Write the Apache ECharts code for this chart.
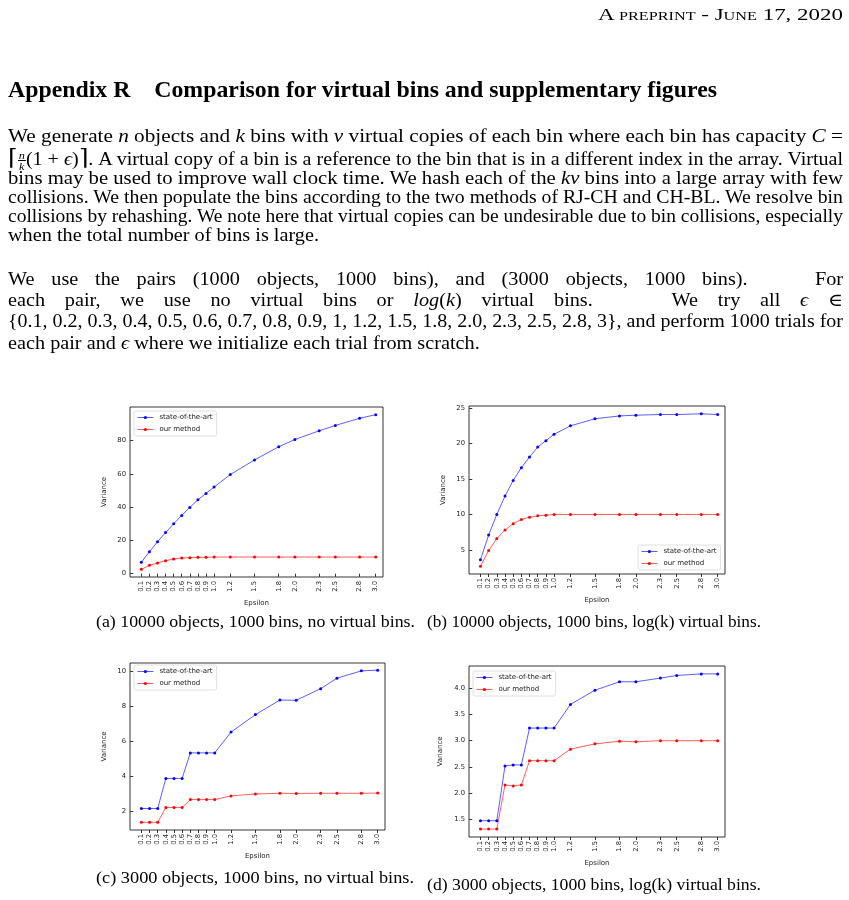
<!DOCTYPE html>
<html>
<head>
<meta charset="utf-8">
<script src="https://cdn.jsdelivr.net/npm/echarts@6/dist/echarts.min.js"></script>
<style>
  html, body { margin: 0; padding: 0; background: #fff; }
  body { width: 849px; height: 900px; position: relative; overflow: hidden;
         font-family: "Liberation Serif", "DejaVu Serif", serif; color: #000; }
  #chart { position: absolute; left: 0; top: 0; width: 849px; height: 900px; }
  .ln { position: absolute; white-space: nowrap; font-size: 18px; line-height: 20px; height: 20px; }
  .ln span.in { display: inline-block; transform-origin: 0 50%; }
  .frac { display: inline-block; vertical-align: middle; text-align: center; font-size: 11px; line-height: 10px; font-style: italic; }
  .frac b { display: block; font-weight: normal; }
  .frac b:first-child { border-bottom: 0.8px solid #000; padding: 0 1px; }
  .big { font-size: 22px; }
  .hdr { font-variant: small-caps; font-size: 17px; }
  .h1 { font-weight: bold; font-size: 23px; }
  .cap { font-size: 17px; }
</style>
</head>
<body>
<div id="chart"></div>

<div class="ln hdr" data-l="598" data-w="245" data-m="fit" style="top:5px"><span class="in">A preprint - June 17, 2020</span></div>
<div class="ln h1" data-l="8" data-w="709" data-m="fit" style="top:80px"><span class="in">Appendix R&nbsp;&nbsp;&nbsp;&nbsp;Comparison for virtual bins and supplementary figures</span></div>

<div class="ln" data-l="8" data-w="835" data-m="fit" style="top:126px"><span class="in">We generate <i>n</i> objects and <i>k</i> bins with <i>v</i> virtual copies of each bin where each bin has capacity <i>C</i> =</span></div>
<div class="ln" data-l="8" data-w="835" data-m="fit" style="top:148px"><span class="in"><span class="big">⌈</span><span class="frac"><b>n</b><b>k</b></span>(1 + <i>ϵ</i>)<span class="big">⌉</span>. A virtual copy of a bin is a reference to the bin that is in a different index in the array. Virtual</span></div>
<div class="ln" data-l="8" data-w="835" data-m="fit" style="top:168px"><span class="in">bins may be used to improve wall clock time. We hash each of the <i>kv</i> bins into a large array with few</span></div>
<div class="ln" data-l="8" data-w="835" data-m="fit" style="top:187px"><span class="in">collisions. We then populate the bins according to the two methods of RJ-CH and CH-BL. We resolve bin</span></div>
<div class="ln" data-l="8" data-w="835" data-m="fit" style="top:206px"><span class="in">collisions by rehashing. We note here that virtual copies can be undesirable due to bin collisions, especially</span></div>
<div class="ln" data-l="8" data-w="0" data-m="body" style="top:225px"><span class="in">when the total number of bins is large.</span></div>

<div class="ln" data-l="8" data-w="835" data-m="just" style="top:269px"><span class="in">We use the pairs (1000 objects, 1000 bins), and (3000 objects, 1000 bins).&nbsp;&nbsp;&nbsp; For</span></div>
<div class="ln" data-l="8" data-w="835" data-m="just" style="top:290px"><span class="in">each pair, we use no virtual bins or <i>log</i>(<i>k</i>) virtual bins.&nbsp;&nbsp;&nbsp; We try all <i>ϵ</i> ∈</span></div>
<div class="ln" data-l="8" data-w="835" data-m="just" style="top:311px"><span class="in">{0.1, 0.2, 0.3, 0.4, 0.5, 0.6, 0.7, 0.8, 0.9, 1, 1.2, 1.5, 1.8, 2.0, 2.3, 2.5, 2.8, 3}, and perform 1000 trials for</span></div>
<div class="ln" data-l="8" data-w="0" data-m="body" style="top:333px"><span class="in">each pair and <i>ϵ</i> where we initialize each trial from scratch.</span></div>

<div class="ln cap" data-l="96" data-w="319" data-m="fit" style="top:612px"><span class="in">(a) 10000 objects, 1000 bins, no virtual bins.</span></div>
<div class="ln cap" data-l="427" data-w="334" data-m="fit" style="top:612px"><span class="in">(b) 10000 objects, 1000 bins, log(k) virtual bins.</span></div>
<div class="ln cap" data-l="96" data-w="318" data-m="fit" style="top:868px"><span class="in">(c) 3000 objects, 1000 bins, no virtual bins.</span></div>
<div class="ln cap" data-l="427" data-w="334" data-m="fit" style="top:875px"><span class="in">(d) 3000 objects, 1000 bins, log(k) virtual bins.</span></div>

<script>
// epsilon values (x axis)
var eps = [0.1, 0.2, 0.3, 0.4, 0.5, 0.6, 0.7, 0.8, 0.9, 1.0, 1.2, 1.5, 1.8, 2.0, 2.3, 2.5, 2.8, 3.0];

// (a) 10000 objects, 1000 bins, no virtual bins
var sotaA = [6.8, 13.1, 19.1, 24.7, 30.0, 35.0, 39.8, 44.4, 48.2, 52.0, 59.5, 68.3, 76.2, 80.6, 85.8, 89.0, 93.3, 95.5];
var oursA = [2.6, 5.0, 6.4, 7.8, 8.8, 9.4, 9.6, 9.8, 9.8, 10.0, 10.0, 10.0, 10.0, 10.0, 10.0, 10.0, 10.0, 10.0];
// (b) 10000 objects, 1000 bins, log(k) virtual bins
var sotaB = [3.6, 7.1, 10.0, 12.6, 14.8, 16.6, 18.1, 19.5, 20.4, 21.3, 22.5, 23.5, 23.9, 24.0, 24.1, 24.1, 24.2, 24.1];
var oursB = [2.7, 4.9, 6.6, 7.8, 8.7, 9.3, 9.6, 9.8, 9.9, 10.0, 10.0, 10.0, 10.0, 10.0, 10.0, 10.0, 10.0, 10.0];
// (c) 3000 objects, 1000 bins, no virtual bins
var sotaC = [2.13, 2.13, 2.13, 3.85, 3.85, 3.85, 5.31, 5.31, 5.31, 5.31, 6.5, 7.5, 8.33, 8.32, 8.98, 9.58, 10.0, 10.04];
var oursC = [1.34, 1.34, 1.34, 2.19, 2.19, 2.19, 2.64, 2.64, 2.64, 2.64, 2.85, 2.96, 3.0, 2.99, 3.0, 3.0, 3.0, 3.01];
// (d) 3000 objects, 1000 bins, log(k) virtual bins
var sotaD = [1.48, 1.48, 1.48, 2.52, 2.54, 2.54, 3.24, 3.24, 3.24, 3.24, 3.69, 3.96, 4.12, 4.12, 4.19, 4.24, 4.27, 4.27];
var oursD = [1.32, 1.32, 1.32, 2.16, 2.14, 2.16, 2.62, 2.62, 2.62, 2.62, 2.84, 2.94, 2.99, 2.98, 3.0, 3.0, 3.0, 3.0];

// y tick labels
var yTicksA = [0, 20, 40, 60, 80];
var yTicksB = [5, 10, 15, 20, 25];
var yTicksC = [2, 4, 6, 8, 10];
var yTicksD = [1.5, 2.0, 2.5, 3.0, 3.5, 4.0];

var names = ['state-of-the-art', 'our method'];

// text lines: "fit" lines are squeezed to their width, the body scale is the
// mean of the first paragraph's scales, "just" lines get extra word spacing
var lines = Array.prototype.slice.call(document.querySelectorAll('.ln'));
var scales = [];
lines.forEach(function (d) {
  d.style.left = d.getAttribute('data-l') + 'px';
  var s = d.querySelector('.in');
  d._nat = s.getBoundingClientRect().width;
  if (d.getAttribute('data-m') === 'fit') {
    var k = +d.getAttribute('data-w') / d._nat;
    s.style.transform = 'scaleX(' + k + ')';
    if (!d.classList.contains('hdr') && !d.classList.contains('h1') && !d.classList.contains('cap')) scales.push(k);
  }
});
var bodyK = scales.reduce(function (a, b) { return a + b; }, 0) / scales.length;
lines.forEach(function (d) {
  var m = d.getAttribute('data-m');
  var s = d.querySelector('.in');
  if (m === 'body') {
    s.style.transform = 'scaleX(' + bodyK + ')';
  } else if (m === 'just') {
    var w = +d.getAttribute('data-w');
    var sp = (s.textContent.match(/[ \u00a0]/g) || []).length;
    if (d._nat * bodyK >= w) {
      s.style.transform = 'scaleX(' + (w / d._nat) + ')';
    } else {
      s.style.transform = 'scaleX(' + bodyK + ')';
      s.style.wordSpacing = ((w / bodyK - d._nat) / sp) + 'px';
    }
  }
});

var myChart = echarts.init(document.getElementById('chart'), null, { renderer: 'canvas' });

var grids = [], xAxes = [], yAxes = [], series = [], legends = [];
var tickFont = { fontFamily: 'DejaVu Sans', fontSize: 6.8, color: '#222' };

function panel(g, yMin, yMax, yTicks, yDec, sota, ours, leg) {
  var i = grids.length;
  grids.push({ left: g[0], top: g[1], width: g[2], height: g[3], show: true,
               borderColor: '#000', borderWidth: 0.8, backgroundColor: 'transparent' });
  xAxes.push({
    type: 'value', gridIndex: i, min: -0.04, max: 3.09,
    name: 'Epsilon', nameLocation: 'middle', nameGap: 23,
    nameTextStyle: { fontFamily: 'DejaVu Sans', fontSize: 7, color: '#222' },
    axisLine: { show: false }, splitLine: { show: false },
    axisTick: { show: true, length: 3, customValues: eps, lineStyle: { color: '#000', width: 0.8 } },
    axisLabel: Object.assign({ rotate: 90, margin: 4, customValues: eps,
      formatter: function (v) { return v.toFixed(1); } }, tickFont)
  });
  yAxes.push({
    type: 'value', gridIndex: i, min: yMin, max: yMax,
    name: 'Variance', nameLocation: 'middle', nameGap: yDec ? 25 : 22,
    nameTextStyle: { fontFamily: 'DejaVu Sans', fontSize: 7, color: '#222' },
    axisLine: { show: false }, splitLine: { show: false },
    axisTick: { show: true, length: 3, customValues: yTicks, lineStyle: { color: '#000', width: 0.8 } },
    axisLabel: Object.assign({ margin: 4, customValues: yTicks,
      formatter: function (v) { return yDec ? v.toFixed(1) : String(v); } }, tickFont)
  });
  [[sota, '#0000ff'], [ours, '#ff0000']].forEach(function (p, k) {
    series.push({
      name: names[k], type: 'line', xAxisIndex: i, yAxisIndex: i,
      data: eps.map(function (e, j) { return [e, p[0][j]]; }),
      symbol: 'circle', symbolSize: 3, showSymbol: true,
      lineStyle: { color: p[1], width: 0.8, opacity: 0.8 },
      itemStyle: { color: p[1] }, silent: true, animation: false
    });
  });
  legends.push({
    data: names, orient: 'vertical', left: leg[0], top: leg[1],
    itemWidth: 16, itemHeight: 4, itemGap: 5, padding: [3, 4, 3, 3],
    backgroundColor: '#fff', borderColor: '#d8d8d8', borderWidth: 0.8, borderRadius: 2,
    lineStyle: { width: 0.8 },
    textStyle: { fontFamily: 'DejaVu Sans', fontSize: 7, color: '#222', padding: [0, 0, 0, 1] },
    selectedMode: false
  });
}

panel([130, 407, 253, 170], -2.0, 100.1, yTicksA, false, sotaA, oursA, [134, 411]);
panel([469, 406, 256, 168], 1.6, 25.3, yTicksB, false, sotaB, oursB, [638, 545]);
panel([130, 663, 255, 167], 0.9, 10.45, yTicksC, false, sotaC, oursC, [134, 665]);
panel([469, 666, 256, 171], 1.17, 4.42, yTicksD, true, sotaD, oursD, [473, 671]);

var option = {
  animation: false,
  grid: grids, xAxis: xAxes, yAxis: yAxes, series: series, legend: legends
};
myChart.setOption(option);
</script>
</body>
</html>
